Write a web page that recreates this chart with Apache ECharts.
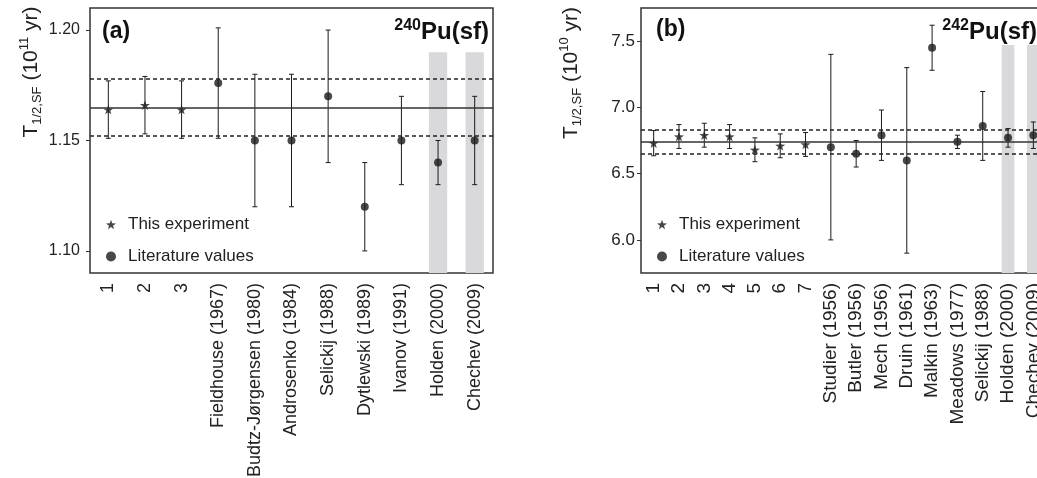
<!DOCTYPE html>
<html>
<head>
<meta charset="utf-8">
<script src="https://cdn.jsdelivr.net/npm/echarts@6/dist/echarts.min.js"></script>
<style>
  html, body { margin: 0; padding: 0; background: #fff; }
  #main { width: 1037px; height: 478px; }
</style>
</head>
<body>
<div id="main"></div>
<script>
// ---- panel (a): 240Pu(sf), 10^11 yr ----
const catsA = ['1', '2', '3', 'Fieldhouse (1967)', 'Budtz-Jørgensen (1980)', 'Androsenko (1984)',
  'Selickij (1988)', 'Dytlewski (1989)', 'Ivanov (1991)', 'Holden (2000)', 'Chechev (2009)'];
const valuesA = [1.164, 1.166, 1.164, 1.176, 1.150, 1.150, 1.170, 1.120, 1.150, 1.140, 1.150];
const errorsA = [0.013, 0.013, 0.013, 0.025, 0.030, 0.030, 0.030, 0.020, 0.020, 0.010, 0.020];
const nExpA = 3;
const meanA = 1.165;
const meanErrA = 0.013;
const shadedA = ['Holden (2000)', 'Chechev (2009)'];
const shadeTopA = 1.19;
const ticksA = [1.10, 1.15, 1.20];

// ---- panel (b): 242Pu(sf), 10^10 yr ----
const catsB = ['1', '2', '3', '4', '5', '6', '7', 'Studier (1956)', 'Butler (1956)', 'Mech (1956)',
  'Druin (1961)', 'Malkin (1963)', 'Meadows (1977)', 'Selickij (1988)', 'Holden (2000)', 'Chechev (2009)'];
const valuesB = [6.73, 6.78, 6.79, 6.78, 6.68, 6.71, 6.72, 6.70, 6.65, 6.79, 6.60, 7.45, 6.74, 6.86, 6.77, 6.79];
const errorsB = [0.095, 0.09, 0.09, 0.09, 0.09, 0.09, 0.09, 0.70, 0.10, 0.19, 0.70, 0.17, 0.05, 0.26, 0.07, 0.10];
const nExpB = 7;
const meanB = 6.74;
const meanErrB = 0.09;
const shadedB = ['Holden (2000)', 'Chechev (2009)'];
const shadeTopB = 7.47;
const ticksB = [6.0, 6.5, 7.0, 7.5];

const FONT = '"Liberation Sans", Arial, sans-serif';
const INK = '#1a1a1a';
const STAR = 'path://M0,-10L2.35,-3.24L9.51,-3.09L3.8,1.24L5.88,8.09L0,4L-5.88,8.09L-3.8,1.24L-9.51,-3.09L-2.35,-3.24Z';

// panel b runs past the right edge of the picture, as in the original
const gridA = { left: 90, top: 8, width: 403, height: 265 };
const gridB = { left: 641, top: 8, width: 405, height: 265 };
const rangeA = [1.09, 1.21];
const rangeB = [5.75, 7.75];

function errorBars(params, api) {
  const top = api.coord([api.value(0), api.value(2)]);
  const bot = api.coord([api.value(0), api.value(1)]);
  const c = 2.5;
  const st = { stroke: INK, lineWidth: 1 };
  return {
    type: 'group',
    children: [
      { type: 'line', shape: { x1: top[0], y1: top[1], x2: bot[0], y2: bot[1] }, style: st },
      { type: 'line', shape: { x1: top[0] - c, y1: top[1], x2: top[0] + c, y2: top[1] }, style: st },
      { type: 'line', shape: { x1: bot[0] - c, y1: bot[1], x2: bot[0] + c, y2: bot[1] }, style: st }
    ]
  };
}

function shadeRender(yMin) {
  return function (params, api) {
    const top = api.coord([api.value(0), api.value(1)]);
    const bot = api.coord([api.value(0), yMin]);
    const w = api.size([1, 0])[0] * 0.5;
    return {
      type: 'rect',
      shape: { x: top[0] - w / 2, y: top[1], width: w, height: bot[1] - top[1] },
      style: { fill: '#d9d9db' }
    };
  };
}

function meanLines(mean, err) {
  return {
    silent: true,
    precision: 4,
    symbol: ['none', 'none'],
    label: { show: false },
    data: [
      { yAxis: mean, lineStyle: { type: 'solid', color: '#333', width: 1.5 } },
      { yAxis: mean + err, lineStyle: { type: [4, 3], color: '#222', width: 1.5 } },
      { yAxis: mean - err, lineStyle: { type: [4, 3], color: '#222', width: 1.5 } }
    ]
  };
}

function panelSeries(idx, cats, values, errors, nExp, mean, err, shaded, shadeTop, yMin) {
  const pts = values.map((v, i) => [i, v]);
  return [
    {
      type: 'custom', xAxisIndex: idx, yAxisIndex: idx, z: 1,
      renderItem: shadeRender(yMin),
      data: shaded.map(n => [cats.indexOf(n), shadeTop])
    },
    {
      type: 'scatter', name: 'This experiment', xAxisIndex: idx, yAxisIndex: idx, z: 3,
      symbol: STAR, symbolSize: 10, symbolKeepAspect: true,
      itemStyle: { color: INK },
      data: pts.slice(0, nExp),
      markLine: meanLines(mean, err)
    },
    {
      type: 'custom', xAxisIndex: idx, yAxisIndex: idx, z: 2,
      renderItem: errorBars,
      data: values.map((v, i) => [i, v - errors[i], v + errors[i]])
    },
    {
      type: 'scatter', name: 'Literature values', xAxisIndex: idx, yAxisIndex: idx, z: 3,
      symbol: 'circle', symbolSize: 8,
      itemStyle: { color: INK },
      data: pts.slice(nExp)
    }
  ];
}

function xAxisFor(idx, cats, size) {
  return {
    type: 'category', gridIndex: idx, data: cats,
    axisLine: { show: false }, axisTick: { show: false },
    axisLabel: { rotate: 90, interval: 0, margin: 10, fontSize: size, color: '#222', fontFamily: FONT }
  };
}

function yAxisFor(idx, range, ticks, digits, size, margin) {
  return {
    type: 'value', gridIndex: idx, min: range[0], max: range[1],
    axisLine: { show: false },
    splitLine: { show: false },
    axisTick: { show: true, length: 4, customValues: ticks, lineStyle: { color: '#333' } },
    axisLabel: {
      customValues: ticks, margin: margin, fontSize: size, color: '#222', fontFamily: FONT,
      formatter: v => v.toFixed(digits)
    }
  };
}

function legendFor(left) {
  return {
    orient: 'vertical', left: left, top: 216, padding: 0,
    itemWidth: 10, itemHeight: 10, itemGap: 15,
    selectedMode: false,
    textStyle: { fontSize: 17, color: '#222', fontFamily: FONT, padding: [0, 0, 0, 7] },
    data: [
      { name: 'This experiment', icon: STAR },
      { name: 'Literature values', icon: 'circle' }
    ]
  };
}

function axisTitle(x, y, exp) {
  return {
    type: 'text', x: x, y: y, rotation: Math.PI / 2,
    style: {
      text: '{m|T}{sub|1/2,SF}{m| (10}{sup|' + exp + '}{m| yr)}',
      align: 'center', verticalAlign: 'middle', fill: '#222',
      rich: {
        m: { fontSize: 21, fontFamily: FONT, lineHeight: 26 },
        sub: { fontSize: 13, fontFamily: FONT, verticalAlign: 'bottom', lineHeight: 16 },
        sup: { fontSize: 13, fontFamily: FONT, verticalAlign: 'top', lineHeight: 16 }
      }
    }
  };
}

function nuclide(x, mass) {
  return {
    type: 'text', x: x, y: 18,
    style: {
      text: '{sup|' + mass + '}{pu|Pu(sf)}',
      align: 'right', verticalAlign: 'top', fill: '#111',
      rich: {
        sup: { fontSize: 16, fontWeight: 'bold', fontFamily: FONT, verticalAlign: 'top', lineHeight: 17 },
        pu: { fontSize: 24, fontWeight: 'bold', fontFamily: FONT, lineHeight: 28 }
      }
    }
  };
}

function panelLabel(x, y, t) {
  return {
    type: 'text', x: x, y: y,
    style: { text: t, fontSize: 23, fontWeight: 'bold', fontFamily: FONT, fill: '#111', verticalAlign: 'middle' }
  };
}

const chart = echarts.init(document.getElementById('main'), null, { renderer: 'canvas' });

chart.setOption({
  animation: false,
  backgroundColor: '#fff',
  grid: [
    Object.assign({ show: true, borderColor: '#333', borderWidth: 1.5, outerBoundsMode: 'none' }, gridA),
    Object.assign({ show: true, borderColor: '#333', borderWidth: 1.5, outerBoundsMode: 'none' }, gridB)
  ],
  xAxis: [xAxisFor(0, catsA, 18), xAxisFor(1, catsB, 19)],
  yAxis: [yAxisFor(0, rangeA, ticksA, 2, 16, 10), yAxisFor(1, rangeB, ticksB, 1, 17, 6)],
  legend: [legendFor(106), legendFor(657)],
  graphic: [
    axisTitle(31, 72, '11'),
    axisTitle(571, 73, '10'),
    nuclide(489, '240'),
    nuclide(1037, '242'),
    panelLabel(102, 32, '(a)'),
    panelLabel(656, 30, '(b)')
  ],
  series: [].concat(
    panelSeries(0, catsA, valuesA, errorsA, nExpA, meanA, meanErrA, shadedA, shadeTopA, rangeA[0]),
    panelSeries(1, catsB, valuesB, errorsB, nExpB, meanB, meanErrB, shadedB, shadeTopB, rangeB[0])
  )
});
</script>
</body>
</html>
